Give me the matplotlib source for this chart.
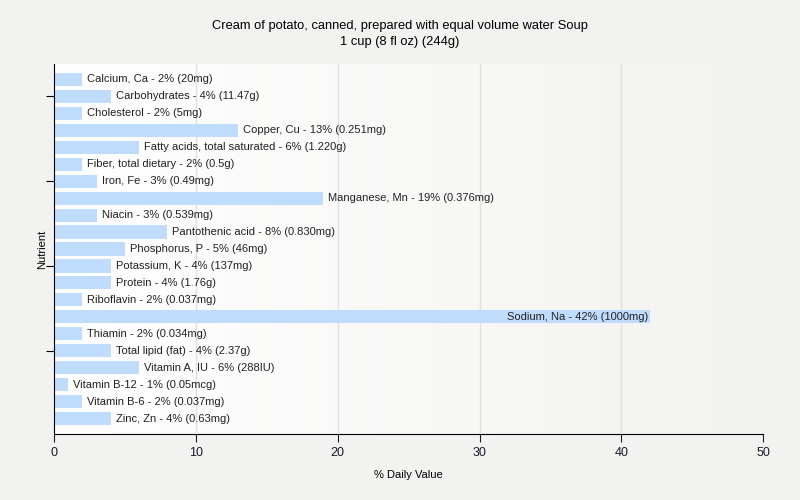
import numpy as np
import matplotlib
matplotlib.use("Agg")
import matplotlib.pyplot as plt
from matplotlib.colors import LinearSegmentedColormap

nutrients = ["Calcium, Ca", "Carbohydrates", "Cholesterol", "Copper, Cu",
             "Fatty acids, total saturated", "Fiber, total dietary", "Iron, Fe",
             "Manganese, Mn", "Niacin", "Pantothenic acid", "Phosphorus, P",
             "Potassium, K", "Protein", "Riboflavin", "Sodium, Na", "Thiamin",
             "Total lipid (fat)", "Vitamin A, IU", "Vitamin B-12", "Vitamin B-6",
             "Zinc, Zn"]
dv = [2, 4, 2, 13, 6, 2, 3, 19, 3, 8, 5, 4, 4, 2, 42, 2, 4, 6, 1, 2, 4]
amounts = ["20mg", "11.47g", "5mg", "0.251mg", "1.220g", "0.5g", "0.49mg",
           "0.376mg", "0.539mg", "0.830mg", "46mg", "137mg", "1.76g", "0.037mg",
           "1000mg", "0.034mg", "2.37g", "288IU", "0.05mcg", "0.037mg", "0.63mg"]

plt.rcParams['font.family'] = ['Liberation Sans', 'DejaVu Sans']

fig = plt.figure(figsize=(8, 5), dpi=100, facecolor="#f2f2f0")
ax = fig.add_axes([0.0675, 0.132, 0.8865, 0.74])

n = len(nutrients)
y = np.arange(n)
ax.barh(y, dv, height=0.77, color="#c0dcfc", zorder=2)

for i in range(n):
    label = f"{nutrients[i]} - {dv[i]}% ({amounts[i]})"
    if dv[i] > 30:
        ax.text(dv[i] - 0.1, y[i], label, va="center", ha="right", fontsize=8,
                color="#222222", zorder=3)
    else:
        ax.text(dv[i] + 0.35, y[i], label, va="center", ha="left", fontsize=8,
                color="#222222", zorder=3)

ax.set_xlim(0, 50)
ax.set_ylim(n - 0.1, -0.9)

# gradient background
cmap = LinearSegmentedColormap.from_list("bg", ["#ffffff", "#f2f2f0"])
grad = np.linspace(0, 1, 256).reshape(1, -1)
ax.imshow(grad, extent=[0, 50, n - 0.1, -0.9], aspect="auto", cmap=cmap,
          zorder=0)

ax.set_xticks([0, 10, 20, 30, 40, 50])
for xv in [10, 20, 30, 40, 50]:
    ax.axvline(xv, color="#e0e0e0", lw=1, zorder=1)
ax.set_yticks([1, 6, 11, 16])
ax.set_yticklabels([])
ax.tick_params(axis="both", direction="out", length=6, color="black")
ax.tick_params(axis="x", labelsize=9, colors="#1a1a2a")

for side in ["top", "right"]:
    ax.spines[side].set_visible(False)

ax.set_xlabel("% Daily Value", fontsize=8, labelpad=8)
ax.set_ylabel("Nutrient", fontsize=8)
ax.yaxis.set_label_coords(-0.01, 0.5)
fig.text(0.5, 0.961, "Cream of potato, canned, prepared with equal volume water Soup\n1 cup (8 fl oz) (244g)",
         ha="center", va="top", fontsize=9.3, linespacing=1.45)

fig.savefig("out.png", dpi=100, facecolor=fig.get_facecolor())
